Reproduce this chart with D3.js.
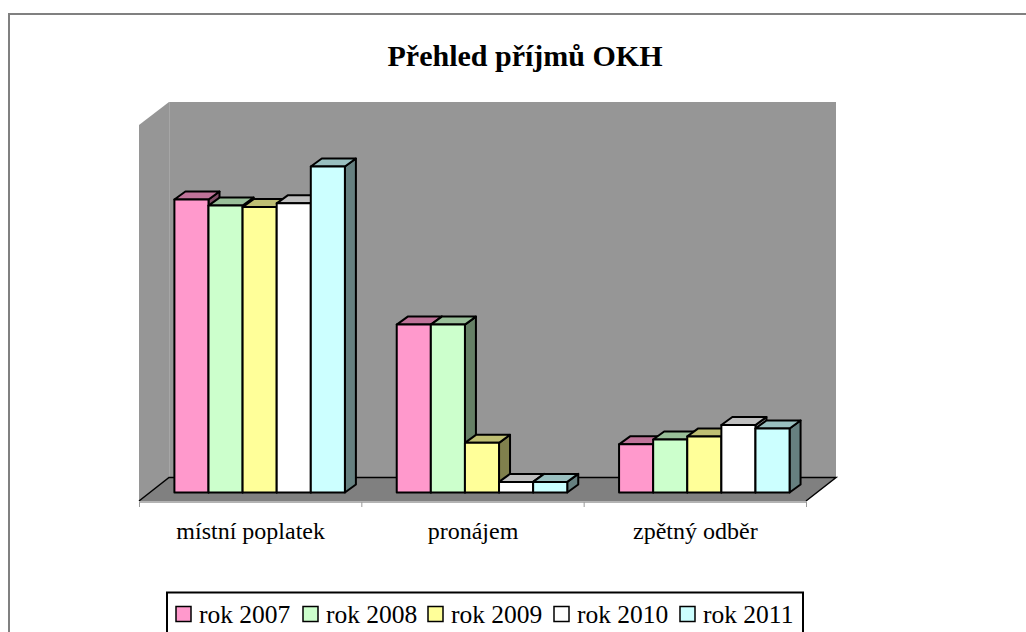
<!DOCTYPE html>
<html>
  <head>
    <title>Přehled příjmů OKH</title>
    <script src="https://d3js.org/d3.v7.min.js"></script>
    <style>
      html, body { margin: 0; padding: 0; background: #fff; overflow: hidden; }
      svg { display: block; font-family: "Liberation Serif", serif; }
    </style>
  </head>
  <body>
    <script>
      const categories = ['místní poplatek', 'pronájem', 'zpětný odběr'];
      const years = ['rok 2007', 'rok 2008', 'rok 2009', 'rok 2010', 'rok 2011'];
      const colors = ['#ff99cc', '#ccffcc', '#ffff99', '#ffffff', '#ccffff'];

      // no value axis in the picture, so these are read off as relative heights
      const rok2007 = [773, 443, 127];
      const rok2008 = [757, 443, 140];
      const rok2009 = [753, 131, 148];
      const rok2010 = [763, 28, 178];
      const rok2011 = [860, 28, 169];
      const series = [rok2007, rok2008, rok2009, rok2010, rok2011];

      const w = 1026;
      const h = 632;
      const depthX = 11;
      const depthY = 8;

      const xScale = d3.scaleBand().domain(categories).range([139, 806]);
      const barScale = d3.scaleBand().domain(years).range([35.4, 205.9]);
      const yScale = d3.scaleLinear().domain([0, 1000]).range([492.5, 113.5]);

      const svg = d3.select('body').append('svg')
        .attr('width', w)
        .attr('height', h);

      // chart frame
      svg.append('path')
        .attr('d', `M9,${h + 5}V14H${w + 5}`)
        .attr('fill', 'none')
        .attr('stroke', '#808080')
        .attr('stroke-width', 2);

      svg.append('text')
        .attr('x', 525)
        .attr('y', 66)
        .attr('text-anchor', 'middle')
        .attr('font-weight', 'bold')
        .attr('font-size', 30)
        .text('Přehled příjmů OKH');

      // walls and floor
      svg.append('polygon')
        .attr('points', '169,102 836,102 836,477 169,477')
        .attr('fill', '#969696');
      svg.append('polygon')
        .attr('points', '139,125 169,102 169,477 139,501')
        .attr('fill', '#969696');
      svg.append('line')
        .attr('x1', 169.5).attr('x2', 169.5).attr('y1', 102).attr('y2', 477)
        .attr('stroke', '#a6a6a6');
      svg.append('polygon')
        .attr('points', '139,501 169,477 836,477 806,501')
        .attr('fill', '#808080');
      svg.append('path')
        .attr('d', 'M139,501L169,477.5H836L806,501')
        .attr('fill', 'none')
        .attr('stroke', '#000')
        .attr('stroke-width', 1.5);

      const xAxis = d3.axisBottom(xScale).tickValues([]).tickSize(0);
      svg.append('g')
        .attr('transform', 'translate(0, 501.5)')
        .call(xAxis)
        .call(g => g.select('.domain').attr('stroke', '#9a9a9a').attr('stroke-width', 1.5));

      svg.selectAll('.tick-mark')
        .data(xScale.domain().map(d => xScale(d)).concat(xScale.range()[1]))
        .enter()
        .append('line')
        .attr('class', 'tick-mark')
        .attr('x1', d => d + 0.5).attr('x2', d => d + 0.5)
        .attr('y1', 502).attr('y2', 507)
        .attr('stroke', '#9a9a9a');

      svg.selectAll('.cat')
        .data(categories)
        .enter()
        .append('text')
        .attr('class', 'cat')
        .attr('x', d => xScale(d) + xScale.bandwidth() / 2 + 0.5)
        .attr('y', 539)
        .attr('text-anchor', 'middle')
        .attr('font-size', 24)
        .text(d => d);

      // bars, left to right so each front covers the neighbour's side
      const shade = (c, k) => {
        const o = d3.rgb(c);
        return d3.rgb(o.r * k, o.g * k, o.b * k);
      };

      categories.forEach((cat, i) => {
        years.forEach((year, j) => {
          const x0 = xScale(cat) + barScale(year);
          const x1 = x0 + barScale.bandwidth();
          const y0 = yScale(series[j][i]);
          const y1 = yScale(0);
          const g = svg.append('g')
            .attr('stroke', '#000')
            .attr('stroke-width', 2)
            .attr('stroke-linejoin', 'round');
          g.append('polygon')
            .attr('points', [[x1, y0], [x1 + depthX, y0 - depthY], [x1 + depthX, y1 - depthY], [x1, y1]].join(' '))
            .attr('fill', shade(colors[j], 0.5));
          g.append('polygon')
            .attr('points', [[x0, y0], [x0 + depthX, y0 - depthY], [x1 + depthX, y0 - depthY], [x1, y0]].join(' '))
            .attr('fill', shade(colors[j], 0.75));
          g.append('rect')
            .attr('x', x0)
            .attr('y', y0)
            .attr('width', x1 - x0)
            .attr('height', y1 - y0)
            .attr('fill', colors[j]);
        });
      });

      // legend, runs off the bottom of the picture
      svg.append('rect')
        .attr('x', 167)
        .attr('y', 592.5)
        .attr('width', 636)
        .attr('height', 60)
        .attr('fill', '#fff')
        .attr('stroke', '#000')
        .attr('stroke-width', 2);

      const legendX = [176, 303, 428, 554, 680];
      const legend = svg.selectAll('.legend')
        .data(years)
        .enter()
        .append('g')
        .attr('class', 'legend')
        .attr('transform', (d, i) => `translate(${legendX[i]}, 0)`);
      legend.append('rect')
        .attr('y', 606.5)
        .attr('width', 15)
        .attr('height', 15)
        .attr('fill', (d, i) => colors[i])
        .attr('stroke', '#000')
        .attr('stroke-width', 1.5);
      legend.append('text')
        .attr('x', 23)
        .attr('y', 623)
        .attr('font-size', 25.5)
        .text(d => d);
    </script>
  </body>
</html>
